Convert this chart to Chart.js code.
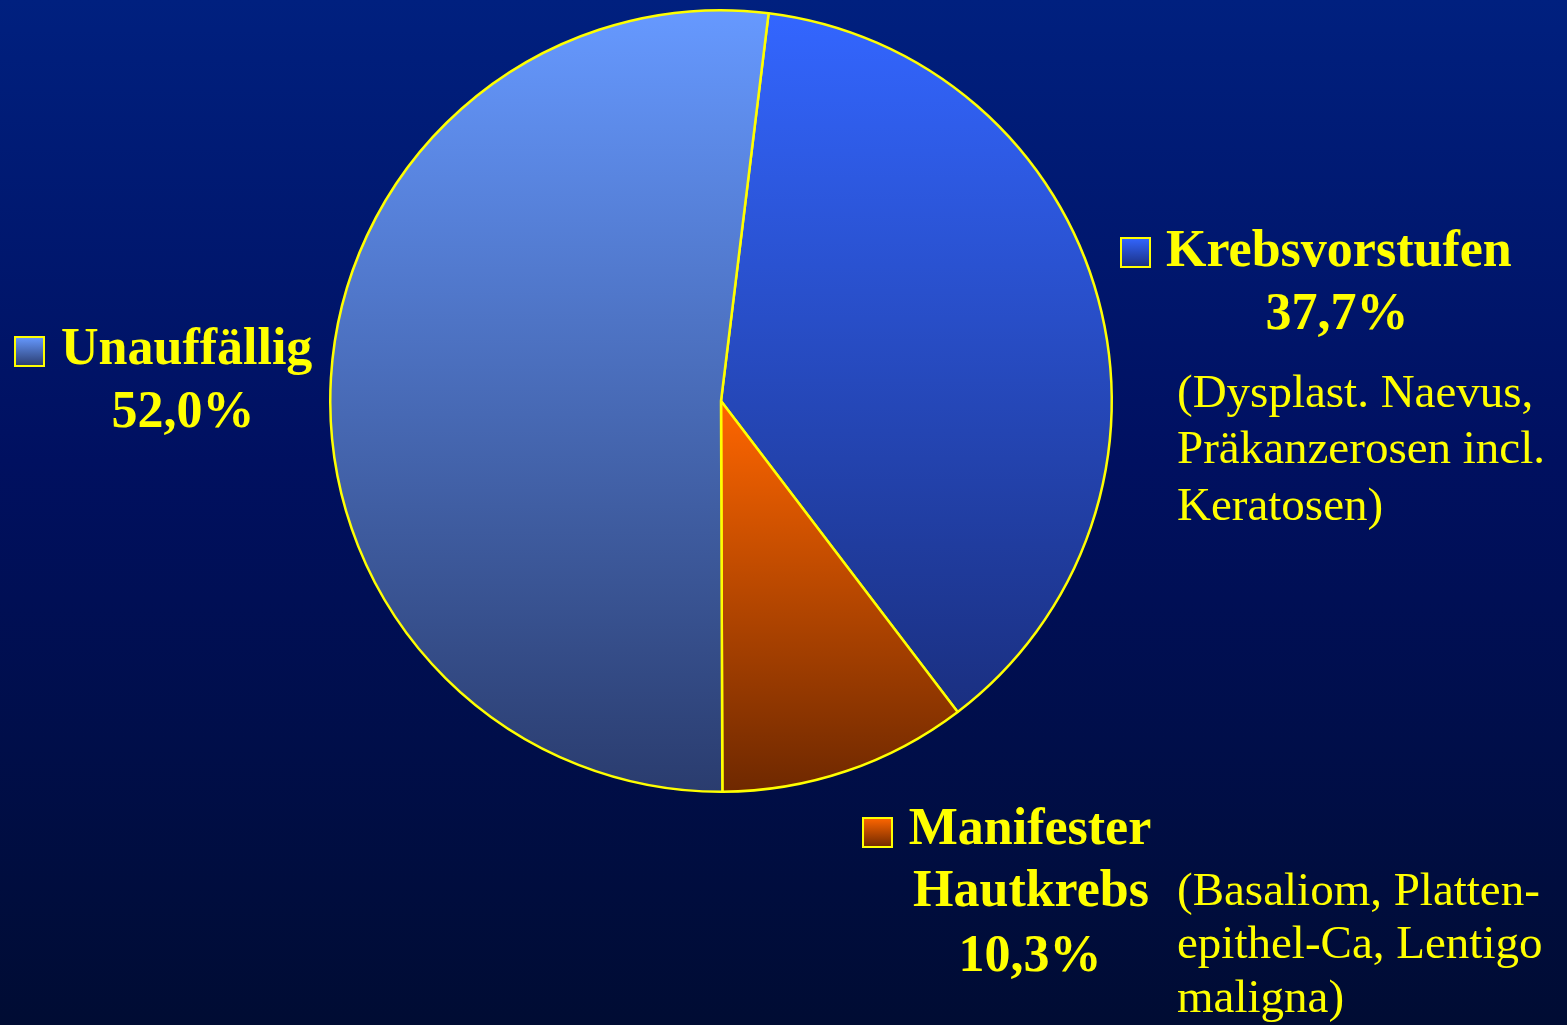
<!DOCTYPE html>
<html>
<head>
<meta charset="utf-8">
<script src="https://cdn.jsdelivr.net/npm/chart.js@4.4.1/dist/chart.umd.min.js"></script>
<style>
  html, body { margin: 0; padding: 0; }
  body {
    width: 1567px; height: 1025px; overflow: hidden;
    background: linear-gradient(to bottom, #00207f 0%, #001060 45%, #000c33 100%);
  }
  #wrap { position: absolute; left: 0; top: 0; width: 1567px; height: 1025px; }
</style>
</head>
<body>
<div id="wrap"><canvas id="pieChart" width="1567" height="1025"></canvas></div>
<script>
// Data
const categories = ['Krebsvorstufen', 'Manifester Hautkrebs', 'Unauffällig'];
const shares = [37.7, 10.3, 52.0];
const shareLabels = ['37,7%', '10,3%', '52,0%'];

// gradient stops per slice (top -> bottom)
const sliceColors = [
    ['#3366ff', '#1a2f80'],
    ['#ff6600', '#6e2800'],
    ['#6699ff', '#2a3c6e']
];

const startRotation = 7;
const yellow = '#ffff00';
const serif = '"Liberation Serif", "Times New Roman", serif';

// vertical extent of a slice, so the gradient spans just that slice
function sliceYRange(chart, i) {
    const area = chart.chartArea;
    const cx = (area.left + area.right) / 2;
    const cy = (area.top + area.bottom) / 2;
    const r = Math.min(area.right - area.left, area.bottom - area.top) / 2;
    const total = shares.reduce((a, b) => a + b, 0);
    let a0 = startRotation;
    for (let k = 0; k < i; k++) a0 += shares[k] / total * 360;
    const a1 = a0 + shares[i] / total * 360;
    let minY = cy, maxY = cy;
    for (let a = a0; a <= a1; a += 0.5) {
        const y = cy - r * Math.cos(a * Math.PI / 180);
        minY = Math.min(minY, y);
        maxY = Math.max(maxY, y);
    }
    return [minY, maxY];
}

function sliceFill(context) {
    const chart = context.chart;
    if (!chart.chartArea) return sliceColors[context.dataIndex][0];
    const [y0, y1] = sliceYRange(chart, context.dataIndex);
    const g = chart.ctx.createLinearGradient(0, y0, 0, y1);
    g.addColorStop(0, sliceColors[context.dataIndex][0]);
    g.addColorStop(1, sliceColors[context.dataIndex][1]);
    return g;
}

function legendBox(ctx, x, y, size, i) {
    const g = ctx.createLinearGradient(0, y, 0, y + size);
    g.addColorStop(0, sliceColors[i][0]);
    g.addColorStop(1, sliceColors[i][1]);
    ctx.fillStyle = g;
    ctx.fillRect(x, y, size, size);
    ctx.strokeStyle = yellow;
    ctx.lineWidth = 2;
    ctx.strokeRect(x, y, size, size);
}

// labels around the pie
const labelPlugin = {
    id: 'sliceLabels',
    afterDraw(chart) {
        const ctx = chart.ctx;
        ctx.save();
        ctx.fillStyle = yellow;
        ctx.textBaseline = 'alphabetic';

        // Krebsvorstufen
        legendBox(ctx, 1121, 238, 29, 0);
        ctx.fillStyle = yellow;
        ctx.font = 'bold 52px ' + serif;
        ctx.textAlign = 'left';
        ctx.fillText(categories[0], 1166, 266);
        ctx.textAlign = 'center';
        ctx.fillText(shareLabels[0], 1337, 329);
        ctx.font = '47px ' + serif;
        ctx.textAlign = 'left';
        ctx.fillText('(Dysplast. Naevus,', 1177, 407);
        ctx.fillText('Präkanzerosen incl.', 1177, 463);
        ctx.fillText('Keratosen)', 1177, 520);

        // Unauffällig
        legendBox(ctx, 15, 337, 29, 2);
        ctx.fillStyle = yellow;
        ctx.font = 'bold 52px ' + serif;
        ctx.textAlign = 'left';
        ctx.fillText(categories[2], 61, 364);
        ctx.textAlign = 'center';
        ctx.fillText(shareLabels[2], 183, 427);

        // Manifester Hautkrebs
        legendBox(ctx, 863, 818, 29, 1);
        ctx.fillStyle = yellow;
        ctx.font = 'bold 52px ' + serif;
        ctx.textAlign = 'center';
        ctx.fillText('Manifester', 1030, 844);
        ctx.fillText('Hautkrebs', 1031, 906);
        ctx.fillText(shareLabels[1], 1030, 971);
        ctx.font = '47px ' + serif;
        ctx.textAlign = 'left';
        ctx.fillText('(Basaliom, Platten-', 1177, 905);
        ctx.fillText('epithel-Ca, Lentigo', 1177, 958);
        ctx.fillText('maligna)', 1177, 1012);

        ctx.restore();
    }
};

const pieCtx = document.getElementById('pieChart').getContext('2d');
const pieChart = new Chart(pieCtx, {
    type: 'pie',
    data: {
        labels: categories,
        datasets: [{
            data: shares,
            backgroundColor: sliceFill,
            borderColor: yellow,
            borderWidth: 2.5
        }]
    },
    options: {
        responsive: false,
        animation: false,
        rotation: startRotation,
        layout: { padding: { left: 329, right: 454, top: 9, bottom: 232 } },
        plugins: {
            legend: { display: false },
            tooltip: { enabled: false }
        }
    },
    plugins: [labelPlugin]
});
</script>
</body>
</html>
